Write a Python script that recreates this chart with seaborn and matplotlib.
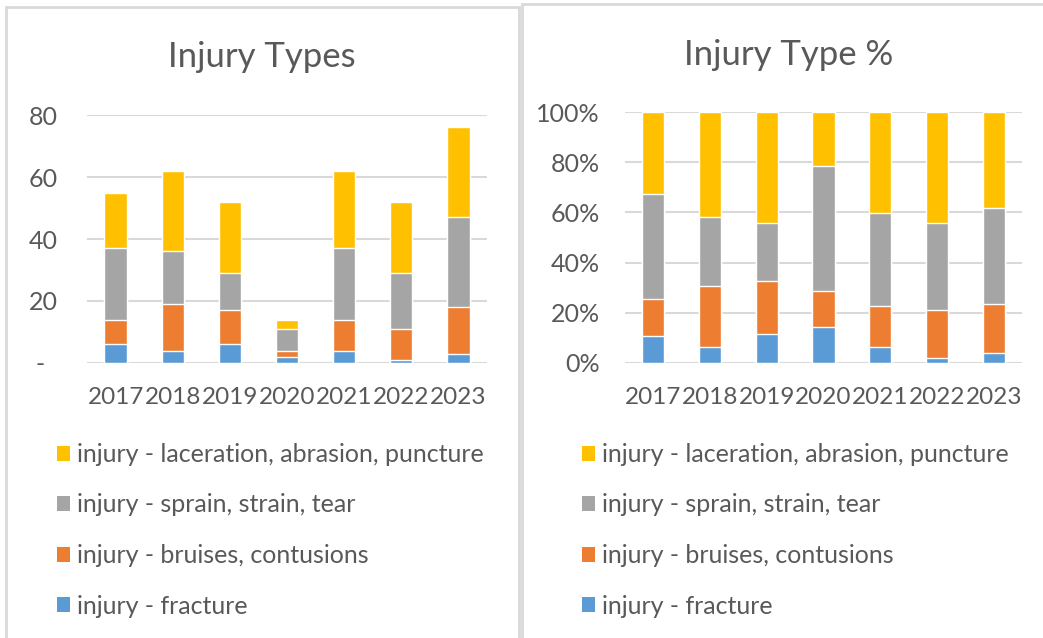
import matplotlib
matplotlib.use("Agg")
import matplotlib.pyplot as plt
import seaborn as sns
import pandas as pd
import numpy as np
from matplotlib.patches import Patch, Rectangle
from matplotlib.ticker import FixedLocator, FixedFormatter

# ---- data ----
years = ["2017", "2018", "2019", "2020", "2021", "2022", "2023"]
fracture = [6, 4, 6, 2, 4, 1, 3]
bruises = [8, 15, 11, 2, 10, 10, 15]
sprain = [23, 17, 12, 7, 23, 18, 29]
laceration = [18, 26, 23, 3, 25, 23, 29]

series_names = [
    "injury - fracture",
    "injury - bruises, contusions",
    "injury - sprain, strain, tear",
    "injury - laceration, abrasion, puncture",
]
series_vals = [fracture, bruises, sprain, laceration]
colors = ["#5B9BD5", "#ED7D31", "#A5A5A5", "#FFC000"]

left_title = "Injury Types"
right_title = "Injury Type %"
left_yticks = [0, 20, 40, 60, 80]
left_yticklabels = ["-  ", "20", "40", "60", "80"]
right_yticks = [0, 0.2, 0.4, 0.6, 0.8, 1.0]
right_yticklabels = ["0%", "20%", "40%", "60%", "80%", "100%"]

sns.set_theme(style="white")
plt.rcParams["font.family"] = ["Lato", "DejaVu Sans"]

TXT = "#595959"
GRID = "#D9D9D9"
W, H = 1043, 638
fig = plt.figure(figsize=(W / 100, H / 100), dpi=100)
fig.patch.set_facecolor("white")


def ax_at(x0, y_top, x1, y_bot):
    return fig.add_axes([x0 / W, 1 - y_bot / H, (x1 - x0) / W, (y_bot - y_top) / H])


# panel borders
fig.patches.append(Rectangle((6 / W, -0.1), (519 - 6) / W, 1.1 - 7 / H,
                             transform=fig.transFigure, fill=False,
                             edgecolor=GRID, linewidth=2, zorder=0))
fig.patches.append(Rectangle((522 / W, -0.1), 0.6, 1.1 - 4 / H,
                             transform=fig.transFigure, fill=False,
                             edgecolor=GRID, linewidth=2, zorder=0))

# cumulative tables
df = pd.DataFrame({"year": years})
for name, vals in zip(series_names, series_vals):
    df[name] = vals
df_cum = df.copy()
df_cum[series_names] = df[series_names].cumsum(axis=1)
tot = df[series_names].sum(axis=1)
df_pct = df_cum.copy()
for name in series_names:
    df_pct[name] = df_cum[name] / tot


def draw(ax, data, yticks, ylabels, ylim, title, pad_y, title_pos):
    # overlay cumulative totals (largest first) to get stacked bars
    for name, c in reversed(list(zip(series_names, colors))):
        sns.barplot(data=data, x="year", y=name, color=c, width=0.39,
                    saturation=1, ax=ax, order=years, zorder=3)
    ax.set_ylim(*ylim)
    ax.set_xlim(-0.5, len(years) - 0.5)
    ax.yaxis.set_major_locator(FixedLocator(yticks))
    ax.yaxis.set_major_formatter(FixedFormatter(ylabels))
    ax.grid(axis="y", color=GRID, linewidth=1.5, zorder=0)
    ax.set_axisbelow(True)
    for s in ax.spines.values():
        s.set_visible(False)
    ax.set_xlabel("")
    ax.set_ylabel("")
    ax.tick_params(axis="both", length=0, labelsize=18, labelcolor=TXT)
    ax.tick_params(axis="x", labelsize=17.5, pad=17)
    ax.tick_params(axis="y", pad=pad_y)
    fig.text(title_pos[0] / W, 1 - title_pos[1] / H, title, ha="center", va="center",
             fontsize=25, color=TXT)


axL = ax_at(87, 115, 487, 363)
draw(axL, df_cum, left_yticks, left_yticklabels, (0, 80), left_title, 21, (262, 57))
axR = ax_at(625, 112, 1022, 363)
draw(axR, df_pct, right_yticks, right_yticklabels, (0, 1), right_title, 18, (789, 55))

handles = [Patch(facecolor=c, edgecolor="none") for c in colors][::-1]
labels = series_names[::-1]
for x_anchor in (57, 582):
    fig.legend(handles, labels, loc="upper left",
               bbox_to_anchor=(x_anchor / W, 1 - 443 / H),
               frameon=False, fontsize=18, labelcolor=TXT,
               handlelength=0.52, handleheight=0.56, handletextpad=0.28,
               labelspacing=1.1, borderpad=0, borderaxespad=0)

fig.savefig("out.png", dpi=100, facecolor="white")
